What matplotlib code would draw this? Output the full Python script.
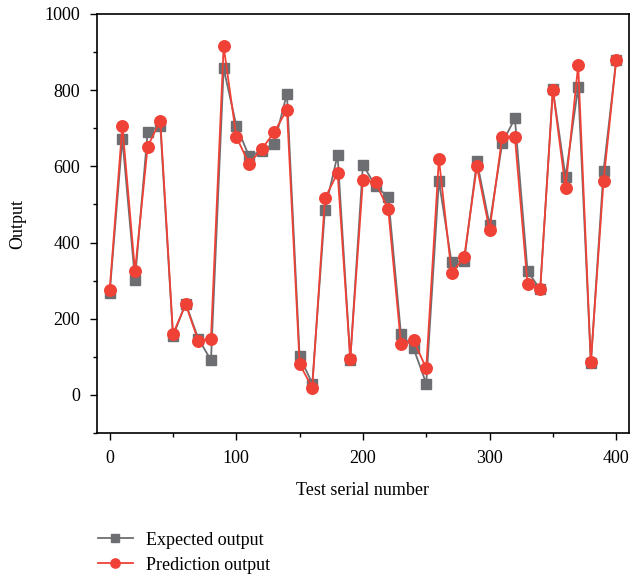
import numpy as np
import matplotlib.pyplot as plt
from matplotlib.ticker import MultipleLocator

plt.rcParams['font.family'] = ['Liberation Serif', 'DejaVu Serif']
plt.rcParams['font.size'] = 13

# test serial numbers, every 10th sample
serial = np.arange(0, 401, 10)

expected = [268, 673, 302, 691, 706, 154, 240, 148, 91, 857,
            707, 627, 640, 660, 791, 101, 30, 486, 630, 93,
            604, 548, 520, 161, 122, 30, 562, 348, 352, 614,
            447, 661, 726, 325, 277, 802, 572, 809, 83, 588,
            878]

predicted = [275, 707, 325, 652, 720, 160, 238, 142, 148, 915,
             678, 607, 645, 690, 749, 81, 19, 516, 583, 95,
             564, 558, 487, 135, 143, 70, 620, 319, 362, 600,
             432, 678, 678, 290, 277, 801, 543, 866, 86, 561,
             878]

grey = '#6d6e71'
red = '#ef4136'

fig = plt.figure(figsize=(6.32, 5.8), dpi=100)
ax = fig.add_axes([0.1535, 0.2534, 0.8415, 0.7225])

ax.plot(serial, expected, color=grey, marker='s', markersize=6.5,
        linewidth=1.3, label='Expected output')
ax.plot(serial, predicted, color=red, marker='o', markersize=8.3,
        linewidth=1.3, label='Prediction output')

ax.set_xlim(-10, 410)
ax.set_ylim(-100, 1000)
ax.xaxis.set_major_locator(MultipleLocator(100))
ax.xaxis.set_minor_locator(MultipleLocator(50))
ax.yaxis.set_major_locator(MultipleLocator(200))
ax.yaxis.set_minor_locator(MultipleLocator(100))
ax.tick_params(which='both', direction='out', width=1, pad=7)
ax.tick_params(which='major', length=5)
ax.tick_params(which='minor', length=3)
for s in ax.spines.values():
    s.set_linewidth(1.2)

ax.set_xlabel('Test serial number', labelpad=11)
ax.set_ylabel('Output', labelpad=13)

fig.legend(loc='upper left', bbox_to_anchor=(0.144, 0.096), frameon=False,
           handlelength=1.9, handletextpad=0.75, labelspacing=0.45,
           markerscale=0.8, borderaxespad=0)

fig.savefig('out.png', dpi=100)
